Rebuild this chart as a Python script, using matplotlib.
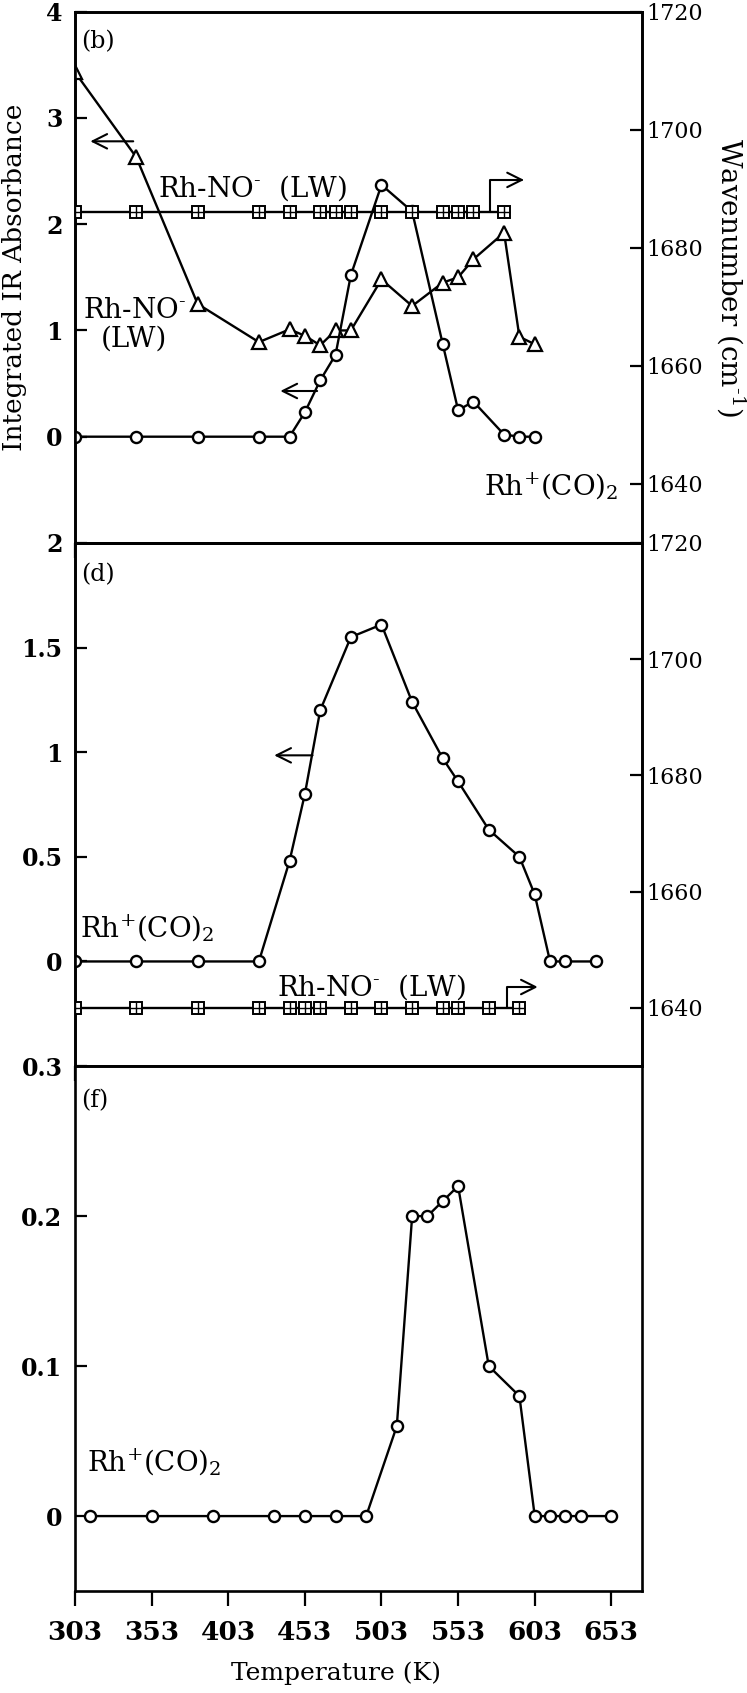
import numpy as np
import matplotlib
matplotlib.use("Agg")
import matplotlib.pyplot as plt
from matplotlib.ticker import FixedLocator, FixedFormatter

plt.rcParams['font.family'] = ['DejaVu Serif', 'DejaVu Sans']
plt.rcParams['mathtext.fontset'] = 'dejavuserif'

# ---- panel (b) ----
T_b = [303, 343, 383, 423, 443, 453, 463, 473, 483, 503, 523, 543, 553, 563, 583, 593, 603]
nolw_abs_b = [3.43, 2.63, 1.25, 0.89, 1.01, 0.95, 0.86, 1.00, 1.00, 1.48, 1.23, 1.45, 1.50, 1.67, 1.92, 0.94, 0.87]
co2_abs_b = [0, 0, 0, 0, 0, 0.23, 0.53, 0.77, 1.52, 2.37, 2.12, 0.87, 0.25, 0.33, 0.02, 0, 0]
T_b_wn = [303, 343, 383, 423, 443, 463, 473, 483, 503, 523, 543, 553, 563, 583]
nolw_wn_b = [1686, 1686, 1686, 1686, 1686, 1686, 1686, 1686, 1686, 1686, 1686, 1686, 1686, 1686]

# ---- panel (d) ----
T_d = [303, 343, 383, 423, 443, 453, 463, 483, 503, 523, 543, 553, 573, 593, 603, 613, 623, 643]
co2_abs_d = [0, 0, 0, 0, 0.48, 0.80, 1.20, 1.55, 1.61, 1.24, 0.97, 0.86, 0.63, 0.50, 0.32, 0, 0, 0]
T_d_wn = [303, 343, 383, 423, 443, 453, 463, 483, 503, 523, 543, 553, 573, 593]
nolw_wn_d = [1640, 1640, 1640, 1640, 1640, 1640, 1640, 1640, 1640, 1640, 1640, 1640, 1640, 1640]

# ---- panel (f) ----
T_f = [313, 353, 393, 433, 453, 473, 493, 513, 523, 533, 543, 553, 573, 593, 603, 613, 623, 633, 653]
co2_abs_f = [0, 0, 0, 0, 0, 0, 0, 0.06, 0.20, 0.20, 0.21, 0.22, 0.10, 0.08, 0, 0, 0, 0, 0]

xticks = [303, 353, 403, 453, 503, 553, 603, 653]
yt_b = [0, 1, 2, 3, 4]
yl_b = ['0', '1', '2', '3', '4']
yt_d = [0, 0.5, 1, 1.5, 2]
yl_d = ['0', '0.5', '1', '1.5', '2']
yt_f = [0, 0.1, 0.2, 0.3]
yl_f = ['0', '0.1', '0.2', '0.3']
wn_ticks = [1640, 1660, 1680, 1700, 1720]
wn_labels = ['1640', '1660', '1680', '1700', '1720']

XLIM = (303, 673)
WNLIM = (1630, 1720)
LW = 1.7
MS = 8
LABFS = 20
NO_MINUS = r'Rh-NO$^{\text{-}}$'
RH_CO2 = r'Rh$^{+}$(CO)$_{2}$'

fig = plt.figure(figsize=(7.47, 16.93), dpi=100)
left, width = 75 / 747, 567 / 747
ax_b = fig.add_axes([left, 0.6793, width, 0.3138])
ax_d = fig.add_axes([left, 0.3703, width, 0.3090])
ax_f = fig.add_axes([left, 0.0602, width, 0.3101])


def style_axis(ax, yt, yl, ylim):
    ax.set_xlim(*XLIM)
    ax.set_ylim(*ylim)
    ax.xaxis.set_major_locator(FixedLocator(xticks))
    ax.yaxis.set_major_locator(FixedLocator(yt))
    ax.yaxis.set_major_formatter(FixedFormatter(yl))
    ax.tick_params(axis='x', direction='out', length=11, width=1.6, pad=10,
                   labelsize=19)
    ax.tick_params(axis='y', direction='in', length=8.5, width=1.6, pad=9,
                   labelsize=17, right=False)
    for lab in ax.get_yticklabels():
        lab.set_fontweight('bold')
    for s in ax.spines.values():
        s.set_linewidth(1.9)


def style_twin(tw):
    tw.set_ylim(*WNLIM)
    tw.yaxis.set_major_locator(FixedLocator(wn_ticks))
    tw.yaxis.set_major_formatter(FixedFormatter(wn_labels))
    tw.tick_params(axis='y', direction='in', length=8.5, width=1.6, pad=3,
                   labelsize=16)
    for s in tw.spines.values():
        s.set_linewidth(1.9)


def sq_line(ax, x, y):
    ax.plot(x, y, '-', color='black', lw=LW, marker='s', ms=8.5, mfc='white',
            mec='black', mew=1.4, zorder=3)
    ax.plot(x, y, ls='none', marker='+', ms=8.5, mec='black', mew=1.0, zorder=4)


def circ_line(ax, x, y):
    ax.plot(x, y, '-', color='black', lw=LW, marker='o', ms=MS, mfc='white',
            mec='black', mew=1.7, zorder=3)


arrow_kw = dict(arrowstyle='->', lw=1.5, color='black', mutation_scale=26,
                shrinkA=0, shrinkB=0)
bent = dict(arrow_kw, connectionstyle='angle,angleA=90,angleB=0,rad=0')

# ---------- (b) ----------
style_axis(ax_b, yt_b, yl_b, (-1, 4))
ax_b.tick_params(axis='x', labelbottom=False)
tw_b = ax_b.twinx()
style_twin(tw_b)
ax_b.plot(T_b, nolw_abs_b, '-', color='black', lw=LW, marker='^', ms=9.5,
          mfc='white', mec='black', mew=1.6, zorder=3)
circ_line(ax_b, T_b, co2_abs_b)
sq_line(tw_b, T_b_wn, nolw_wn_b)

ax_b.annotate('', xy=(313, 2.78), xytext=(341, 2.78), arrowprops=arrow_kw)
ax_b.annotate('', xy=(437, 0.43), xytext=(461, 0.43), arrowprops=arrow_kw)
tw_b.annotate('', xy=(596, 1691.5), xytext=(574, 1686), arrowprops=bent)

ax_b.text(0.01, 0.943, '(b)', transform=ax_b.transAxes, fontsize=17,
          ha='left', va='center')
ax_b.text(357, 2.34, NO_MINUS + '  (LW)', fontsize=LABFS, ha='left', va='center')
ax_b.text(308, 1.19, NO_MINUS, fontsize=LABFS, ha='left', va='center')
ax_b.text(320, 0.92, '(LW)', fontsize=LABFS, ha='left', va='center')
ax_b.text(570, -0.47, RH_CO2, fontsize=LABFS, ha='left', va='center')

ax_b.set_ylabel('Integrated IR Absorbance', fontsize=19)
ax_b.yaxis.set_label_coords(-0.085, 0.5)
tw_b.set_ylabel('Wavenumber (cm$^{\\text{-}1}$)', fontsize=20, rotation=-90,
                va='center')
tw_b.yaxis.set_label_coords(1.157, 0.5)

# ---------- (d) ----------
style_axis(ax_d, yt_d, yl_d, (-0.5, 2))
ax_d.tick_params(axis='x', labelbottom=False)
tw_d = ax_d.twinx()
style_twin(tw_d)
circ_line(ax_d, T_d, co2_abs_d)
sq_line(tw_d, T_d_wn, nolw_wn_d)

ax_d.annotate('', xy=(433, 0.985), xytext=(458, 0.985), arrowprops=arrow_kw)
tw_d.annotate('', xy=(605, 1643.6), xytext=(585, 1640), arrowprops=bent)

ax_d.text(0.01, 0.939, '(d)', transform=ax_d.transAxes, fontsize=17,
          ha='left', va='center')
ax_d.text(306, 0.16, RH_CO2, fontsize=LABFS, ha='left', va='center')
ax_d.text(435, -0.125, NO_MINUS + '  (LW)', fontsize=LABFS, ha='left', va='center')

# ---------- (f) ----------
style_axis(ax_f, yt_f, yl_f, (-0.05, 0.3))
for lab in ax_f.get_xticklabels():
    lab.set_fontweight('bold')
circ_line(ax_f, T_f, co2_abs_f)
ax_f.text(0.01, 0.935, '(f)', transform=ax_f.transAxes, fontsize=17,
          ha='left', va='center')
ax_f.text(311, 0.036, RH_CO2, fontsize=LABFS, ha='left', va='center')
ax_f.set_xlabel('Temperature (K)', fontsize=18)
ax_f.xaxis.set_label_coords(0.46, -0.135)

fig.savefig('out.png', dpi=100)
